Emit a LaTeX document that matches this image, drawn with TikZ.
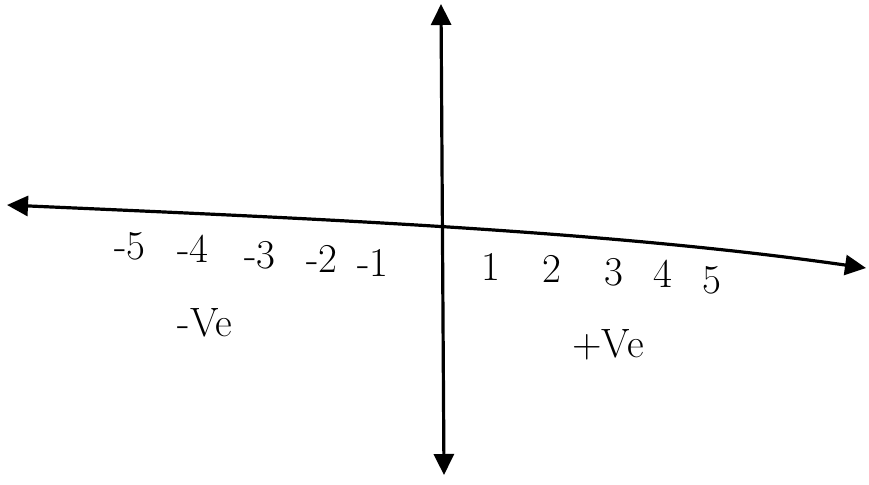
\documentclass[tikz,border=0pt]{standalone}
\usetikzlibrary{arrows.meta}
\begin{document}
\begin{tikzpicture}[x=0.5pt,y=-0.5pt,
  axis/.style={line width=1.6pt,{Triangle[length=10.5pt,width=10pt]}-{Triangle[length=10.5pt,width=10pt]}},
  lbl/.style={font=\fontsize{20.5}{24}\selectfont,inner sep=0pt}]
\useasboundingbox (0,0) rectangle (869,484);
\coordinate (L) at (7,205);
\coordinate (R) at (866,268);
\coordinate (T) at (441,4);
\coordinate (B) at (444,475);
\draw[axis] (L) .. controls (300,218) and (600,230) .. (R);
\draw[axis] (T) -- (B);
\node[lbl] (m5) at (130,246) {-5};
\node[lbl] (m4) at (193,249) {-4};
\node[lbl] (m3) at (260,255) {-3};
\node[lbl] (m2) at (322,259) {-2};
\node[lbl] (m1) at (373,263) {-1};
\node[lbl] (p1) at (491,267) {1};
\node[lbl] (p2) at (552,269) {2};
\node[lbl] (p3) at (614,272) {3};
\node[lbl] (p4) at (663,274) {4};
\node[lbl] (p5) at (712,280) {5};
\node[lbl] (neg) at (205,323) {-Ve};
\node[lbl] (pos) at (608,345) {+Ve};
\end{tikzpicture}
\end{document}
